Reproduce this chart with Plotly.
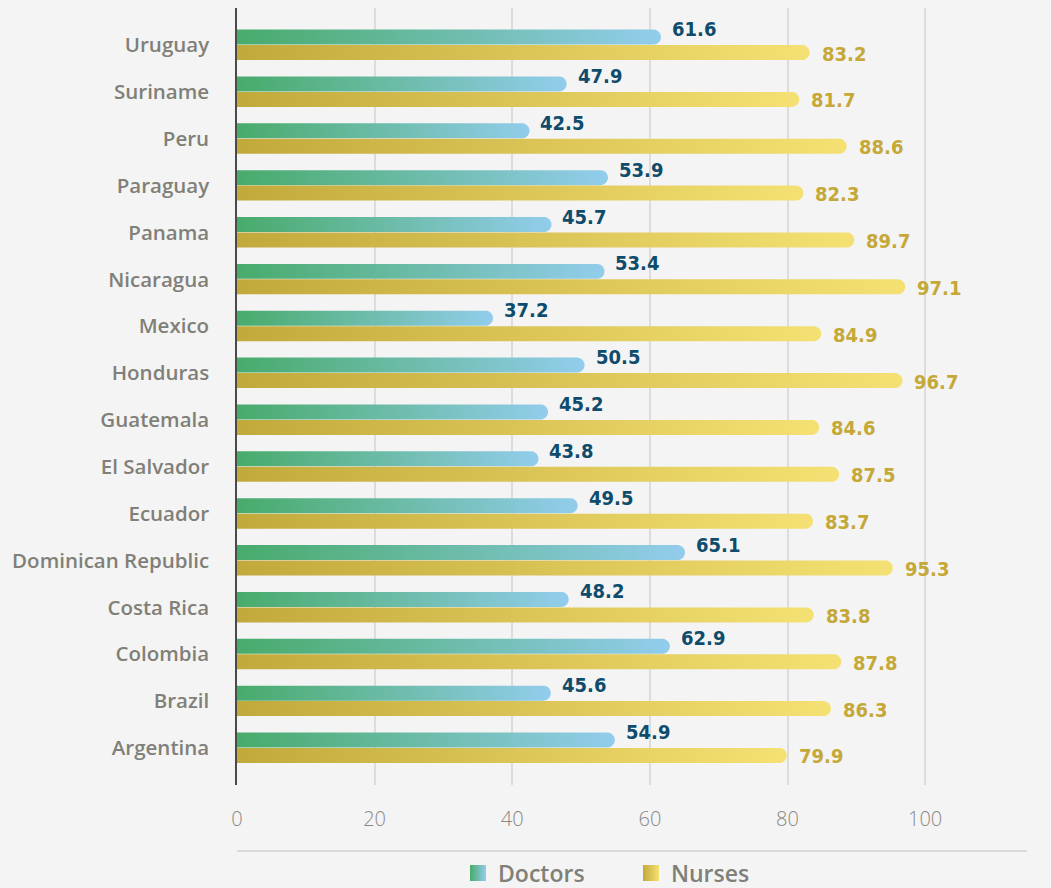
import numpy as np
import plotly.graph_objects as go

# Share of health workers by country (%)
countries = ["Argentina", "Brazil", "Colombia", "Costa Rica", "Dominican Republic",
             "Ecuador", "El Salvador", "Guatemala", "Honduras", "Mexico",
             "Nicaragua", "Panama", "Paraguay", "Peru", "Suriname", "Uruguay"]
doctors = [54.9, 45.6, 62.9, 48.2, 65.1, 49.5, 43.8, 45.2, 50.5, 37.2,
           53.4, 45.7, 53.9, 42.5, 47.9, 61.6]
nurses = [79.9, 86.3, 87.8, 83.8, 95.3, 83.7, 87.5, 84.6, 96.7, 84.9,
          97.1, 89.7, 82.3, 88.6, 81.7, 83.2]
x_ticks = [0, 20, 40, 60, 80, 100]

# Figure geometry
W, H = 1051, 888
M = dict(l=237, r=24, t=8, b=103, autoexpand=False)
X_RANGE = [0, 114.8]
Y_RANGE = [-0.79, 15.79]
PX_X = (W - M["l"] - M["r"]) / (X_RANGE[1] - X_RANGE[0])
PX_Y = (H - M["t"] - M["b"]) / (Y_RANGE[1] - Y_RANGE[0])
BAR_H = 0.32

DOC_SCALE = [[0, "#48ab6b"], [0.5, "#6dbcaa"], [1, "#92cdec"]]
NUR_SCALE = [[0, "#c2a93c"], [1, "#f5e173"]]
DOC_TEXT = "#0f4c6c"
NUR_TEXT = "#c5a838"
GREY = "#807f78"
BG = "#f4f4f4"
FONT = "Open Sans"
NUM_FONT = "DejaVu Sans Condensed, Roboto, sans-serif"


def rounded_bar(value, y0, y1, n=24):
    """Polygon for a horizontal bar with a round right end, in data units."""
    yc = (y0 + y1) / 2
    ry = (y1 - y0) / 2
    rx = ry * PX_Y / PX_X
    xc = max(value - rx, 0)
    th = np.linspace(-np.pi / 2, np.pi / 2, n)
    xs = [0, xc] + list(xc + rx * np.cos(th)) + [xc, 0, 0]
    ys = [y0, y0] + list(yc + ry * np.sin(th)) + [y1, y1, y0]
    return xs, ys


fig = go.Figure()
annotations = []

for i, (d, n) in enumerate(zip(doctors, nurses)):
    xs, ys = rounded_bar(d, i + 0.01, i + 0.01 + BAR_H)
    fig.add_trace(go.Scatter(
        x=xs, y=ys, mode="none", fill="toself",
        fillgradient=dict(type="horizontal", colorscale=DOC_SCALE),
        hoverinfo="skip", showlegend=False))
    xs, ys = rounded_bar(n, i - BAR_H, i)
    fig.add_trace(go.Scatter(
        x=xs, y=ys, mode="none", fill="toself",
        fillgradient=dict(type="horizontal", colorscale=NUR_SCALE),
        hoverinfo="skip", showlegend=False))
    annotations.append(dict(
        x=d, y=i + 0.01 + BAR_H / 2, xref="x", yref="y", text=f"{d:.1f}",
        showarrow=False, xanchor="left", yanchor="middle", xshift=9, yshift=8,
        font=dict(family=NUM_FONT, size=20, color=DOC_TEXT, weight=700)))
    annotations.append(dict(
        x=n, y=i - BAR_H / 2, xref="x", yref="y", text=f"{n:.1f}",
        showarrow=False, xanchor="left", yanchor="middle", xshift=10, yshift=-1,
        font=dict(family=NUM_FONT, size=20, color=NUR_TEXT, weight=700)))

# Legend entries
fig.add_trace(go.Scatter(
    x=[None], y=[None], mode="markers", name="Doctors",
    marker=dict(symbol="square", size=16, color="#48ab6b",
                gradient=dict(type="horizontal", color="#92cdec"))))
fig.add_trace(go.Scatter(
    x=[None], y=[None], mode="markers", name="Nurses",
    marker=dict(symbol="square", size=16, color="#c2a93c",
                gradient=dict(type="horizontal", color="#f5e173"))))

fig.update_layout(
    width=W, height=H, margin=M,
    paper_bgcolor=BG, plot_bgcolor=BG,
    annotations=annotations,
    showlegend=True,
    legend=dict(orientation="h", xref="container", yref="container",
                x=458 / W, xanchor="left", y=(H - 873) / H, yanchor="middle",
                entrywidth=128, tracegroupgap=0,
                font=dict(family=FONT, size=23, color=GREY, weight=600),
                bgcolor="rgba(0,0,0,0)"),
    shapes=[dict(type="line", xref="paper", yref="paper", x0=0, x1=1,
                 y0=-66 / 777, y1=-66 / 777,
                 line=dict(color="#d2d2d2", width=1.5))],
    xaxis=dict(range=X_RANGE, tickvals=x_ticks, showgrid=True,
               gridcolor="#dcdcdc", gridwidth=1.5, zeroline=False,
               showline=False, ticks="", ticklabelstandoff=20,
               tickfont=dict(family=FONT, size=20, color="#8a8984", weight=300)),
    yaxis=dict(range=Y_RANGE, tickvals=list(range(len(countries))),
               ticktext=countries, showgrid=False, zeroline=False,
               showline=True, linecolor="#4a4a4a", linewidth=1.5,
               ticks="", ticklabelstandoff=22,
               tickfont=dict(family=FONT, size=20.5, color=GREY, weight=600)),
)

fig.write_html("out.html")
